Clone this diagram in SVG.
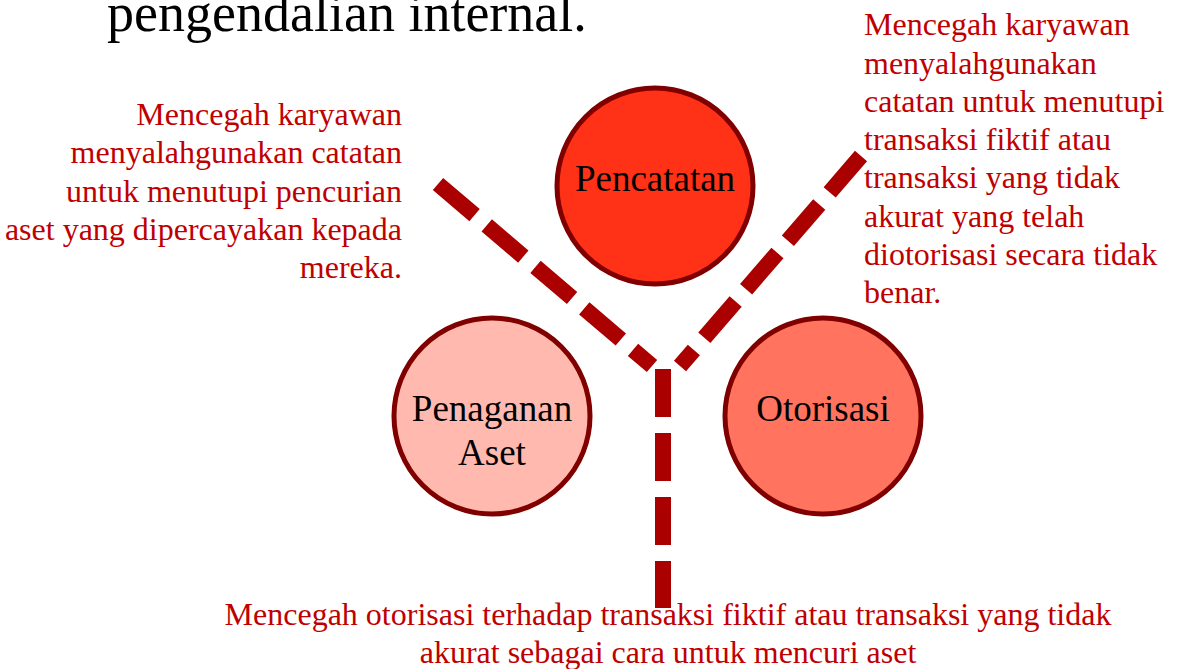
<svg xmlns="http://www.w3.org/2000/svg" width="1177" height="669" viewBox="0 0 1177 669">
<style>
  .circle { stroke: #800000; stroke-width: 5; }
  .label { font-family: "Liberation Serif", "Times New Roman", serif; font-size: 37px; fill: #000000; text-anchor: middle; }
  .note { font-family: "Liberation Serif", "Times New Roman", serif; font-size: 32px; fill: #C00000; }
  .title { font-family: "Liberation Serif", "Times New Roman", serif; font-size: 54px; fill: #000000; }
  .conn { stroke: #AA0000; stroke-width: 16; stroke-dasharray: 48 16; fill: none; stroke-linecap: butt; }
</style>
<rect width="1177" height="669" fill="#FFFFFF"/>
<text class="title" x="107" y="31">pengendalian internal.</text>
<g id="connectors">
  <line class="conn" x1="438" y1="184" x2="652" y2="366"/>
  <line class="conn" x1="861" y1="156" x2="680" y2="366"/>
  <line class="conn" x1="663" y1="369" x2="663" y2="608"/>
</g>
<g id="node-pencatatan">
  <circle class="circle" cx="655" cy="186" r="98" fill="#FF3116"/>
  <text class="label" x="655" y="191">Pencatatan</text>
</g>
<g id="node-penaganan">
  <circle class="circle" cx="492" cy="416" r="98" fill="#FFB9AE"/>
  <text class="label" x="492" y="421">Penaganan</text>
  <text class="label" x="492" y="465">Aset</text>
</g>
<g id="node-otorisasi">
  <circle class="circle" cx="823" cy="416" r="98" fill="#FF735F"/>
  <text class="label" x="823" y="421">Otorisasi</text>
</g>
<g id="note-left" class="note" text-anchor="end">
  <text x="402" y="125">Mencegah karyawan</text>
  <text x="402" y="163">menyalahgunakan catatan</text>
  <text x="402" y="202">untuk menutupi pencurian</text>
  <text x="402" y="240">aset yang dipercayakan kepada</text>
  <text x="402" y="278">mereka.</text>
</g>
<g id="note-right" class="note">
  <text x="864" y="35">Mencegah karyawan</text>
  <text x="864" y="74">menyalahgunakan</text>
  <text x="864" y="112">catatan untuk menutupi</text>
  <text x="864" y="150">transaksi fiktif atau</text>
  <text x="864" y="188">transaksi yang tidak</text>
  <text x="864" y="227">akurat yang telah</text>
  <text x="864" y="265">diotorisasi secara tidak</text>
  <text x="864" y="303">benar.</text>
</g>
<g id="note-bottom" class="note" text-anchor="middle">
  <text x="668" y="625">Mencegah otorisasi terhadap transaksi fiktif atau transaksi yang tidak</text>
  <text x="668" y="663">akurat sebagai cara untuk mencuri aset</text>
</g>
</svg>
